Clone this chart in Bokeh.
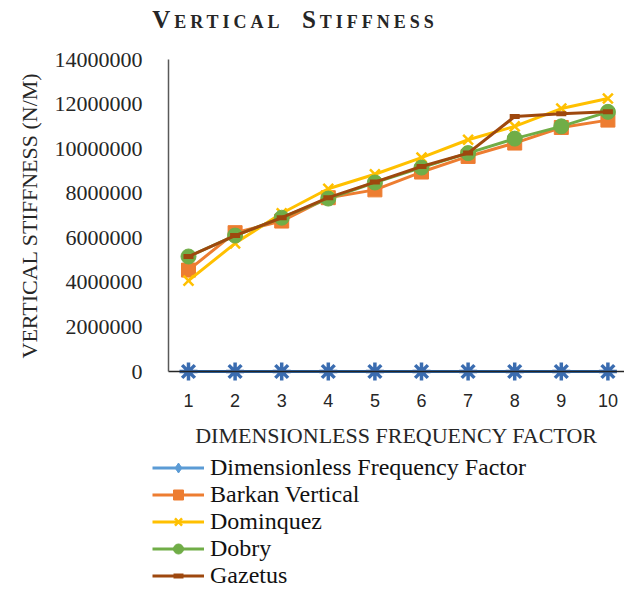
from bokeh.plotting import figure
from bokeh.models import Legend, LegendItem, FixedTicker, Range1d, Div
from bokeh.layouts import column
from bokeh.embed import file_html
from bokeh.resources import INLINE

x = [1, 2, 3, 4, 5, 6, 7, 8, 9, 10]
dimensionless = [1, 2, 3, 4, 5, 6, 7, 8, 9, 10]
barkan = [4550000, 6230000, 6750000, 7800000, 8150000, 8950000, 9650000, 10250000, 10950000, 11280000]
dominquez = [4080000, 5750000, 7100000, 8200000, 8850000, 9600000, 10400000, 11000000, 11800000, 12250000]
dobry = [5160000, 6100000, 6900000, 7760000, 8480000, 9150000, 9800000, 10450000, 11000000, 11650000]
gazetus = [5160000, 6100000, 6900000, 7800000, 8500000, 9200000, 9800000, 11440000, 11570000, 11650000]
y_ticks = [0, 2000000, 4000000, 6000000, 8000000, 10000000, 12000000, 14000000]
series_names = ["Dimensionless Frequency Factor", "Barkan Vertical", "Dominquez", "Dobry", "Gazetus"]
title_text = "Vertical Stiffness"

SERIF = "Liberation Serif"

# ---- title (small caps) ----
title = Div(text=title_text, width=590, height=40, margin=(0, 0, 0, 0),
            styles={"font-family": SERIF, "font-variant": "small-caps", "font-weight": "bold",
                    "font-size": "25px", "letter-spacing": "4px", "word-spacing": "8px",
                    "color": "#262626", "text-align": "center", "line-height": "40px",
                    "width": "590px"})

# ---- main plot: frame spans the whole canvas, axes sit at fixed positions ----
X_LEFT, X_RIGHT = 0.5708, 10.356
p = figure(width=624, height=549, output_backend="svg", toolbar_location=None,
           x_range=Range1d(-3.034, X_RIGHT), y_range=Range1d(-9782000, 14852600),
           min_border_left=0, min_border_right=0, min_border_top=0, min_border_bottom=0,
           margin=(0, 0, 0, 0))
p.outline_line_color = None
p.grid.grid_line_color = None
p.background_fill_color = "white"
p.border_fill_color = "white"

p.xaxis.fixed_location = 0
p.xaxis.bounds = (X_LEFT, X_RIGHT)
p.xaxis.ticker = FixedTicker(ticks=x)
p.xaxis.major_tick_line_color = None
p.xaxis.minor_tick_line_color = None
p.xaxis.axis_line_color = "#262626"
p.xaxis.axis_line_width = 1.5
p.xaxis.major_label_text_font = "Liberation Sans"
p.xaxis.major_label_text_font_size = "18px"
p.xaxis.major_label_text_color = "#262626"
p.xaxis.major_label_standoff = 16
p.xaxis.axis_label = "DIMENSIONLESS FREQUENCY FACTOR"
p.xaxis.axis_label_text_font = SERIF
p.xaxis.axis_label_text_font_size = "22px"
p.xaxis.axis_label_text_font_style = "normal"
p.xaxis.axis_label_text_color = "#262626"
p.xaxis.axis_label_standoff = 13

p.yaxis.fixed_location = X_LEFT
p.yaxis.bounds = (0, 14000000)
p.yaxis.ticker = FixedTicker(ticks=y_ticks)
p.yaxis.major_tick_line_color = None
p.yaxis.minor_tick_line_color = None
p.yaxis.axis_line_color = "#595959"
p.yaxis.axis_line_width = 1.5
p.yaxis.formatter.use_scientific = False
p.yaxis.major_label_text_font = SERIF
p.yaxis.major_label_text_font_size = "22px"
p.yaxis.major_label_text_color = "#262626"
p.yaxis.major_label_standoff = 20
p.yaxis.axis_label = "VERTICAL STIFFNESS (N/M)"
p.yaxis.axis_label_text_font = SERIF
p.yaxis.axis_label_text_font_size = "22px"
p.yaxis.axis_label_text_font_style = "normal"
p.yaxis.axis_label_text_color = "#262626"
p.yaxis.axis_label_standoff = 10

BLUE = "#5b9bd5"
DBLUE = "#3a6cb0"
ORANGE = "#ed7d31"
YELLOW = "#ffc000"
GREEN = "#70ad47"
BROWN = "#9e480e"

p.line(x, dimensionless, line_color="#2e6db4", line_width=3)
p.scatter(x, dimensionless, marker="asterisk", size=18, line_color=DBLUE, line_width=3.5)
p.line(x, barkan, line_color=ORANGE, line_width=3)
p.scatter(x, barkan, marker="square", size=14, fill_color=ORANGE, line_color=ORANGE)
p.line(x, dominquez, line_color=YELLOW, line_width=3)
p.scatter(x, dominquez, marker="x", size=14, line_color=YELLOW, line_width=2.5)
p.line(x, dobry, line_color=GREEN, line_width=3)
p.scatter(x, dobry, marker="circle", size=15, fill_color=GREEN, line_color=GREEN)
p.line(x, gazetus, line_color=BROWN, line_width=3)
p.scatter(x, gazetus, marker="dash", size=10, line_color=BROWN, line_width=5)

# ---- legend (legend swatches use hidden renderers) ----
nan = float("nan")
styles = [
    (BLUE, "diamond", 15, 1),
    (ORANGE, "square", 14, 1),
    (YELLOW, "x", 13, 2.5),
    (GREEN, "circle", 14, 1),
    (BROWN, "dash", 10, 5),
]
items = []
for name, (col, mk, sz, lw) in zip(series_names, styles):
    rl = p.line([1, 2], [nan, nan], line_color=col, line_width=3)
    rm = p.scatter([1], [nan], marker=mk, size=sz, fill_color=col, line_color=col, line_width=lw)
    items.append(LegendItem(label=name, renderers=[rl, rm]))
legend = Legend(items=items, location=(152, 0))
legend.label_text_font = SERIF
legend.label_text_font_size = "24px"
legend.label_text_line_height = 1.0
legend.label_text_color = "#111111"
legend.glyph_width = 52
legend.glyph_height = 25
legend.label_height = 25
legend.label_standoff = 6
legend.spacing = 0
legend.padding = 0
legend.margin = 0
legend.border_line_color = None
legend.background_fill_alpha = 0
p.add_layout(legend, "center")

layout = column(title, p, spacing=0)
open("out.html", "w").write(file_html(layout, INLINE))
